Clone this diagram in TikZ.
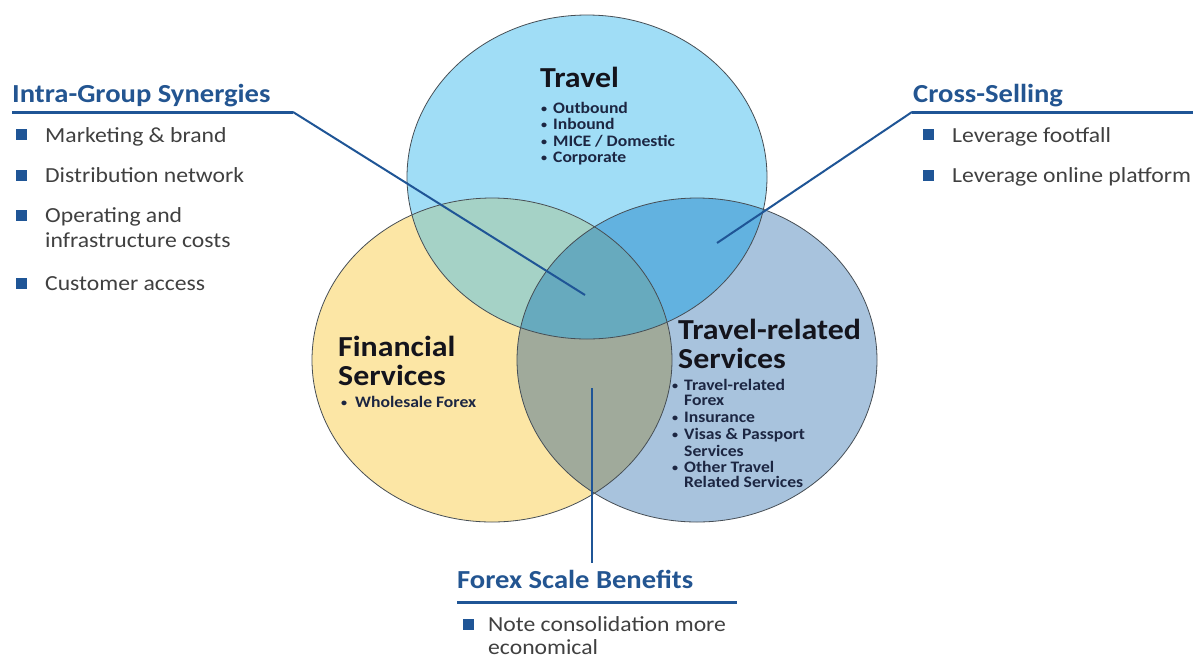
\documentclass[tikz,border=0pt]{standalone}
\usepackage{fontspec}
\setmainfont{Carlito}[FakeStretch=1.1]
\definecolor{cT}{RGB}{160,221,246}
\definecolor{cF}{RGB}{252,230,165}
\definecolor{cR}{RGB}{168,195,221}
\definecolor{cTF}{RGB}{165,210,198}
\definecolor{cTR}{RGB}{98,178,224}
\definecolor{cFR}{RGB}{160,170,155}
\definecolor{cC}{RGB}{103,170,190}
\definecolor{lineblue}{RGB}{31,85,150}
\definecolor{headblue}{RGB}{35,85,145}
\definecolor{bodygray}{RGB}{64,64,64}
\definecolor{titleblk}{RGB}{20,20,28}
\definecolor{bultext}{RGB}{28,38,66}
\definecolor{edgecol}{RGB}{70,78,85}
\newcommand{\bul}[1]{\makebox[#1][l]{\raisebox{0.5pt}{\fontsize{11}{11}\selectfont •}}}
\begin{document}
\begin{tikzpicture}[x=1pt,y=-1pt,
  head/.style={font=\fontsize{26}{30}\selectfont\bfseries, text=headblue, inner sep=0pt, anchor=base west},
  body/.style={font=\fontsize{21.5}{25}\selectfont, text=bodygray, inner sep=0pt, anchor=base west},
  sq/.style={fill=lineblue, minimum width=11pt, minimum height=11pt, inner sep=0pt},
  ctitle/.style={font=\fontsize{29}{33}\selectfont\bfseries, text=titleblk, inner sep=0pt, anchor=base west},
  cbul/.style={font=\fontsize{16}{18}\selectfont\bfseries, text=bultext, inner sep=0pt, anchor=base west},
  conn/.style={draw=lineblue, line width=2pt},
  uline/.style={draw=lineblue, line width=3pt},
  venn/.style={draw=edgecol, line width=0.8pt}]
\fill[white] (0,0) rectangle (1193,657);
\useasboundingbox (0,0) rectangle (1193,657);
\def\Te{(587,177) ellipse [x radius=180pt, y radius=162pt]}
\def\Fe{(492,360) ellipse [x radius=180pt, y radius=162pt]}
\def\Re{(697,360) ellipse [x radius=180pt, y radius=162pt]}
% region fills
\fill[cT] \Te;
\fill[cF] \Fe;
\fill[cR] \Re;
\begin{scope}\clip \Te; \fill[cTF] \Fe; \end{scope}
\begin{scope}\clip \Te; \fill[cTR] \Re; \end{scope}
\begin{scope}\clip \Fe; \fill[cFR] \Re; \end{scope}
\begin{scope}\clip \Te; \clip \Fe; \fill[cC] \Re; \end{scope}
\draw[venn] \Te;
\draw[venn] \Fe;
\draw[venn] \Re;

% Circle texts
\node[ctitle] (tT) at (540,87) {Travel};
\node[cbul] (tT1) at (541,113) {\bul{12pt}Outbound};
\node[cbul] (tT2) at (541,129) {\bul{12pt}Inbound};
\node[cbul] (tT3) at (541,146) {\bul{12pt}MICE / Domestic};
\node[cbul] (tT4) at (541,162) {\bul{12pt}Corporate};

\node[ctitle] (tF1) at (338,356) {Financial};
\node[ctitle] (tF2) at (338,385) {Services};
\node[cbul] (tF3) at (341,407) {\bul{14pt}Wholesale Forex};

\node[ctitle] (tR1) at (678,339) {Travel-related};
\node[ctitle] (tR2) at (678,368) {Services};
\node[cbul] (tR3) at (672,390) {\bul{12pt}Travel-related};
\node[cbul] (tR4) at (684,405) {Forex};
\node[cbul] (tR5) at (672,422) {\bul{12pt}Insurance};
\node[cbul] (tR6) at (672,439) {\bul{12pt}Visas \& Passport};
\node[cbul] (tR7) at (684,456) {Services};
\node[cbul] (tR8) at (672,472) {\bul{12pt}Other Travel};
\node[cbul] (tR9) at (684,487) {Related Services};

% Intra-Group Synergies
\node[head] (ig) at (12,102) {Intra-Group Synergies};
\coordinate (igL) at (12,112);
\coordinate (igR) at (293,112);
\coordinate (igP) at (585,295);
\draw[uline] (igL) -- (igR);
\draw[conn] (igR) -- (igP);
\node[sq] (s1) at (21,134) {};
\node[body] (b1) at (45,142) {Marketing \& brand};
\node[sq] (s2) at (21,175) {};
\node[body] (b2) at (45,182) {Distribution network};
\node[sq] (s3) at (21,215) {};
\node[body] (b3) at (45,222) {Operating and};
\node[body] (b3b) at (45,247) {infrastructure costs};
\node[sq] (s4) at (21,283) {};
\node[body] (b4) at (45,290) {Customer access};

% Cross-Selling
\node[head] (cs) at (913,102) {Cross-Selling};
\coordinate (csL) at (912,112);
\coordinate (csR) at (1193,112);
\coordinate (csP) at (717,243);
\draw[uline] (csL) -- (csR);
\draw[conn] (csL) -- (csP);
\node[sq] (s5) at (928,134) {};
\node[body] (b5) at (952,142) {Leverage footfall};
\node[sq] (s6) at (928,175) {};
\node[body] (b6) at (952,182) {Leverage online platform};

% Forex Scale Benefits
\node[head] (fx) at (457,588) {Forex Scale Benefits};
\coordinate (fxL) at (457,602);
\coordinate (fxR) at (737,602);
\coordinate (fxP) at (592,388);
\coordinate (fxB) at (592,563);
\draw[uline] (fxL) -- (fxR);
\draw[conn] (fxP) -- (fxB);
\node[sq] (s7) at (468,624) {};
\node[body] (b7) at (488,631) {Note consolidation more};
\node[body] (b7b) at (488,654) {economical};
\end{tikzpicture}
\end{document}
